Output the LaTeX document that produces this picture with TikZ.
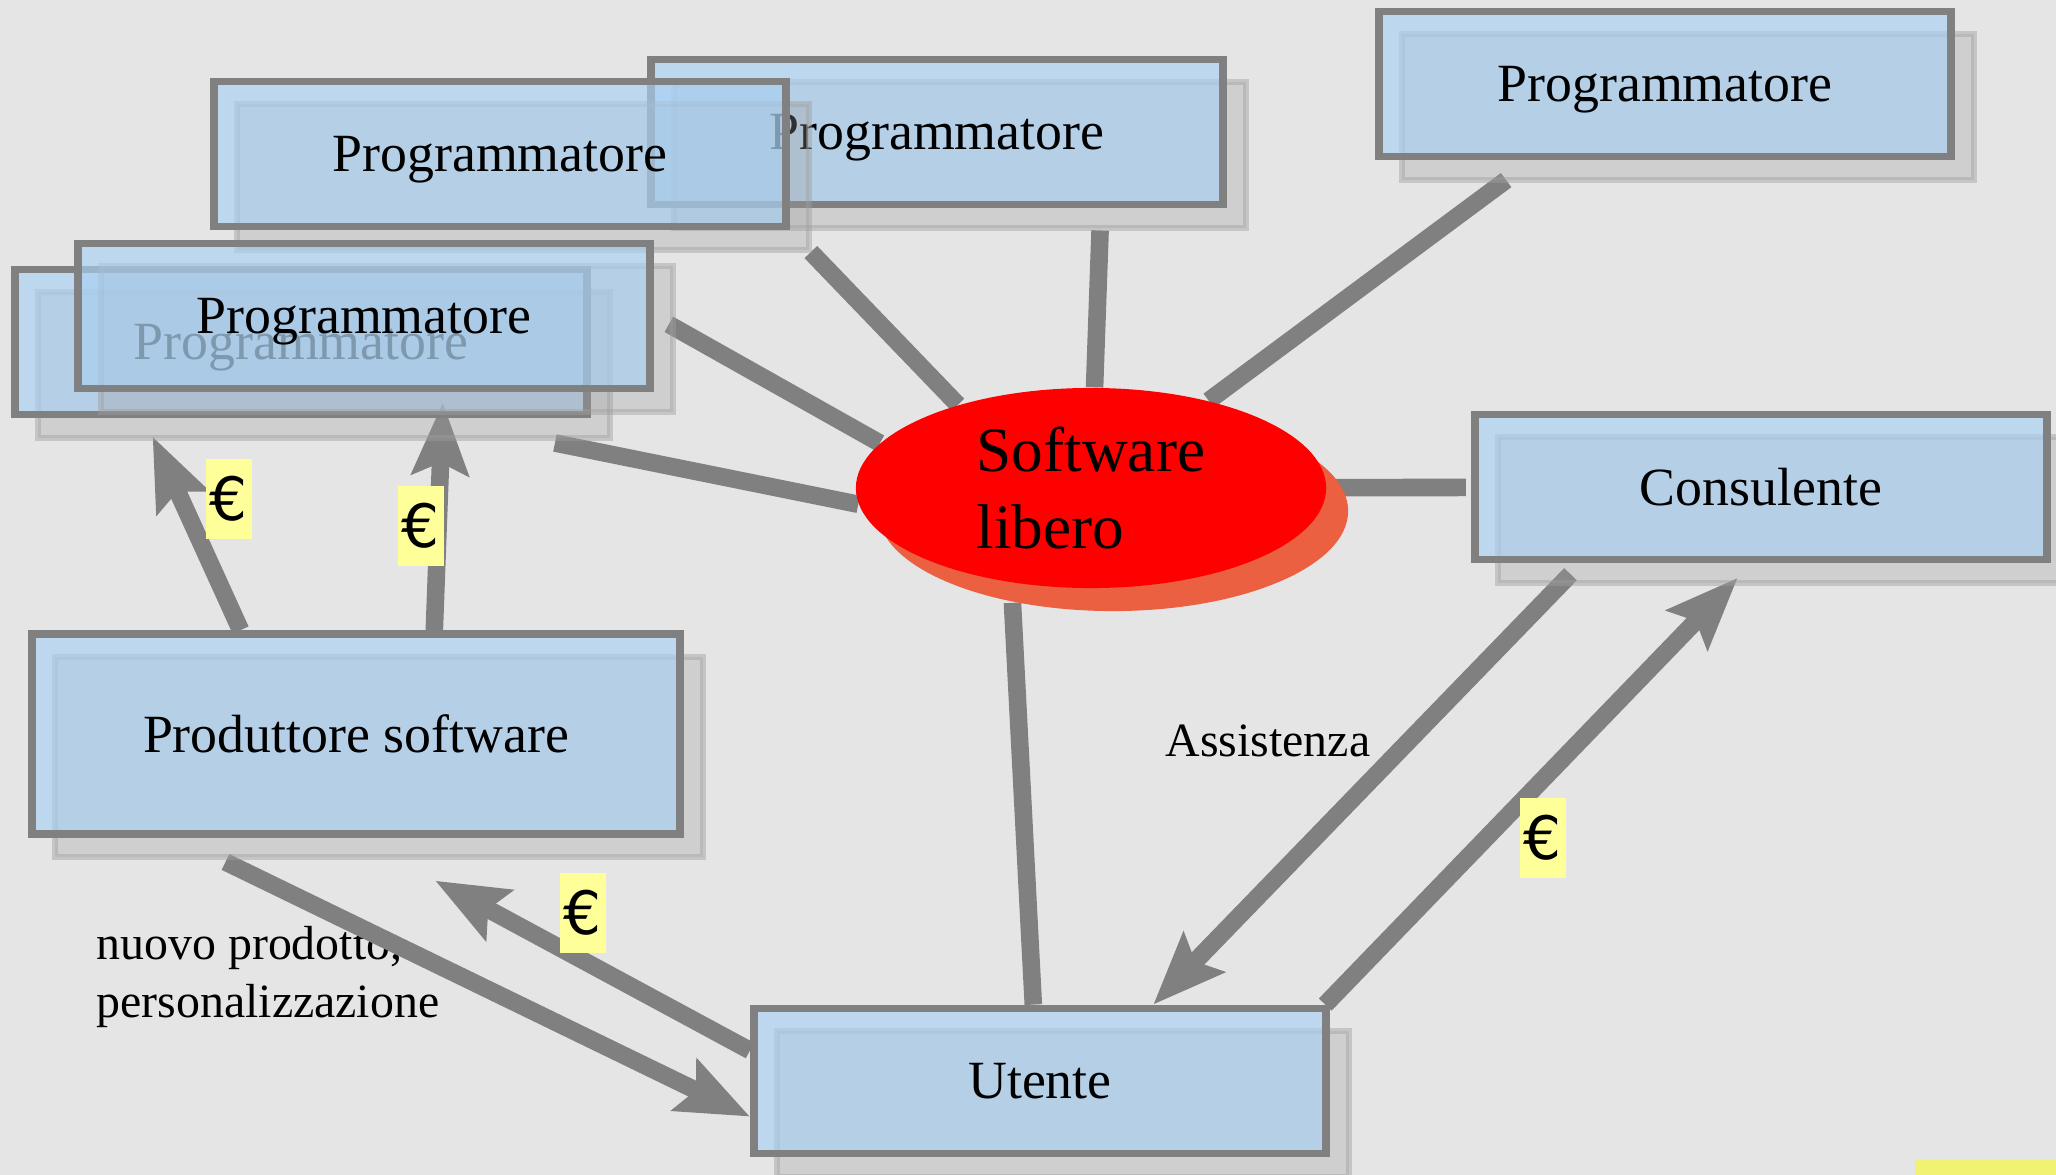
\documentclass[tikz,border=0pt]{standalone}
\usepackage{fontspec}
\setmainfont{Liberation Serif}
\newfontfamily\eurofont{DejaVu Sans}
\usetikzlibrary{positioning, arrows.meta, shapes.geometric, shadows}

\definecolor{grigiosfondo}{RGB}{229,229,229}
\definecolor{azzurro}{RGB}{168,208,243}
\definecolor{bordo}{RGB}{128,128,128}
\definecolor{ombra}{RGB}{159,159,159}
\definecolor{rossoombra}{RGB}{235,96,64}
\definecolor{giallo}{RGB}{255,255,153}
\definecolor{gialloscuro}{RGB}{242,242,114}

\pgfdeclarelayer{fondo}
\pgfdeclarelayer{linee}
\pgfsetlayers{fondo,linee,main}

\begin{document}
\begin{tikzpicture}[x=0.01cm, y=-0.01cm,
    >={Stealth[length=0.72cm, width=0.56cm, inset=0.12cm]},
    riquadro/.style={draw=bordo, line width=2.2pt,
        fill=azzurro, fill opacity=0.65, text opacity=1,
        minimum width=5.72cm, minimum height=1.45cm,
        text depth=0pt,
        font=\fontsize{15.3}{18}\selectfont,
        drop shadow={shadow xshift=0.23cm, shadow yshift=-0.23cm,
            fill=ombra, draw=ombra, line width=1.7pt,
            opacity=1, fill opacity=0.3, draw opacity=0.45}},
    linea/.style={draw=bordo, line width=5pt},
    freccia/.style={linea, ->},
    euro/.style={fill=giallo, inner sep=0pt,
        minimum width=0.46cm, minimum height=0.8cm,
        font=\eurofont\fontsize{17}{20}\selectfont},
    etichetta/.style={inner sep=0pt, align=left,
        font=\fontsize{13.6}{16.7}\selectfont}
]
    \useasboundingbox (0,0) rectangle (2056,1175);

    \node [riquadro] (programmatore1) at (1665,84) {Programmatore};
    \node [riquadro] (programmatore2) at (937,132) {Programmatore};
    \node [riquadro] (programmatore3) at (500,154) {Programmatore};
    \node [riquadro] (programmatore4) at (301,342) {Programmatore};
    \node [riquadro] (programmatore5) at (364,316) {Programmatore};
    \node [riquadro] (consulente) at (1761,487) {Consulente};
    \node [riquadro,
        minimum width=6.48cm,
        minimum height=2cm
    ] (produttore) at (356,734) {Produttore software};
    \node [riquadro] (utente) at (1040,1081) {Utente};

    \node [ellipse,
        fill=red,
        minimum width=4.7cm,
        minimum height=2cm,
        inner sep=0pt,
        align=left,
        font=\fontsize{18}{22}\selectfont,
        drop shadow={shadow xshift=0.22cm, shadow yshift=-0.23cm, fill=rossoombra, opacity=1}
    ] (softwarelibero) at (1091,488) {Software\\libero};

    % euro
    \node [euro] (euro1) at (229,499) {€};
    \node [euro] (euro2) at (421,526) {€};
    \node [euro] (euro3) at (583,913) {€};
    \node [euro] (euro4) at (1543,838) {€};

    \begin{pgfonlayer}{fondo}
        \fill [grigiosfondo] (0,0) rectangle (2056,1175);
        \fill [gialloscuro] (1915,1160) rectangle (2056,1175);
        \node [etichetta, anchor=west] (nuovo) at (96,977) {nuovo prodotto,\\personalizzazione};
        \node [etichetta] (assistenza) at (1268,741) {Assistenza};
    \end{pgfonlayer}

    % raggi dal software libero
    \begin{pgfonlayer}{linee}
        \draw [linea, shorten >=0.33cm] (softwarelibero) -- (programmatore1.210);
        \draw [linea, shorten >=0.22cm] (softwarelibero) -- (programmatore2.-25);
        \draw [linea, shorten >=0.3cm] (softwarelibero.148) -- (programmatore3.south east);
        \draw [linea, shorten >=0.17cm] (softwarelibero.168) -- (programmatore5.east);
        \draw [linea, shorten >=1.24cm] (softwarelibero.184) -- (programmatore4.-30);
        \draw [linea, shorten <=0.07cm, shorten >=0.05cm] (softwarelibero) -- (consulente);
        \draw [linea, shorten <=0.2cm] (softwarelibero.-130) -- (utente.95);

        % frecce
        \draw [freccia, shorten >=0.2cm] (produttore.138) -- (programmatore4.206);
        \draw [freccia, shorten >=0.1cm] (produttore.53) -- (programmatore5.-44);
        \draw [freccia, shorten <=0.55cm] (produttore.210) -- (utente.187);
        \draw [freccia, shorten >=0.9cm] (utente.174) -- (produttore.south);
        \draw [freccia, shorten <=0.15cm] (consulente.203) -- (utente.34);
        \draw [freccia, shorten >=0.2cm] (utente.15) -- (consulente.263);
    \end{pgfonlayer}

\end{tikzpicture}
\end{document}
